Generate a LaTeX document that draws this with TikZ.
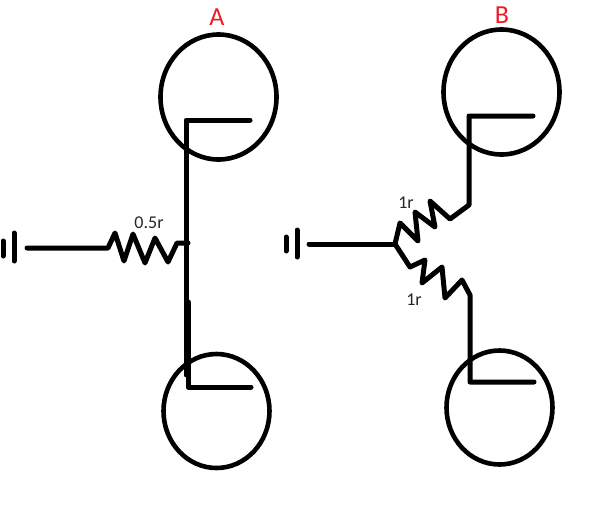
\documentclass[tikz,border=0pt]{standalone}
\usepackage{fontspec}
\setmainfont{Carlito}
\usepackage{tikz}
\usetikzlibrary{positioning,shapes.geometric}

\definecolor{paintred}{RGB}{237,28,36}

\begin{document}
\begin{tikzpicture}[
    x = 1pt, % one unit is one pixel of the sketch
    y = -1pt,
    line join = round,
    line cap = round,
    line width = 4.6pt % line style
    ]

    \tikzset{
    tube/.style = {draw = black, ellipse, inner sep = 0pt, outer sep = 0pt},
    wire/.style = {draw = black, line width = 5pt},
    bar/.style = {wire},
    title/.style = {text = paintred, font = \fontsize{26}{26}\selectfont, inner sep = 0pt},
    value/.style = {text = black!85, font = \fontsize{18}{18}\selectfont, inner sep = 0pt}
    }
    \useasboundingbox (0,0) rectangle (613,509);

    \node[tube, minimum width = 116pt, minimum height = 125pt] (t1) at (218.5,97) {};
    \node[tube, minimum width = 106pt, minimum height = 114pt] (t2) at (216.5,411) {};
    \node[tube, minimum width = 116pt, minimum height = 125pt] (t3) at (501.5,92) {};
    \node[tube, minimum width = 106pt, minimum height = 114pt] (t4) at (499.5,407.5) {};

    \node[title] (a) at (217,17) {A};
    \node[title] (b) at (502,15) {B};
    \node[value] (r1) at (149,223) {0.5r};
    \node[value] (r2) at (406,203) {1r};
    \node[value] (r3) at (414,300) {1r};

    % ground bars
    \coordinate (g1a) at (3,241);
    \coordinate (g1b) at (3,256);
    \coordinate (g2a) at (14,233);
    \coordinate (g2b) at (14,261);
    \coordinate (g3a) at (286,237);
    \coordinate (g3b) at (286,251);
    \coordinate (g4a) at (297,230);
    \coordinate (g4b) at (297,257);
    \draw[bar] (g1a) -- (g1b);
    \draw[bar] (g2a) -- (g2b);
    \draw[bar] (g3a) -- (g3b);
    \draw[bar] (g4a) -- (g4b);

    % left side
    \coordinate (w1) at (27,248);
    \coordinate (j1) at (188,243);
    \coordinate (p1) at (250,120);
    \coordinate (p2) at (186,120);
    \coordinate (p3) at (186,375);
    \coordinate (p4) at (188,302);
    \coordinate (p5) at (188,387);
    \coordinate (p6) at (251,387);
    \draw[wire] (w1) -- (108,248) -- (115,233) -- (124,261) -- (133,234)
        -- (145,263) -- (155,238) -- (168,262) -- (177,243) -- (j1);
    \draw[wire] (p1) -- (p2) -- (p3);
    \draw[wire] (p4) -- (p5) -- (p6);

    % right side
    \coordinate (w2) at (309,244);
    \coordinate (j2) at (395,244);
    \coordinate (q1) at (533,116);
    \coordinate (q2) at (469,116);
    \coordinate (q3) at (469,205);
    \coordinate (q4) at (534,382);
    \coordinate (q5) at (470,382);
    \coordinate (q6) at (470,295);
    \draw[wire] (w2) -- (j2);
    \draw[wire] (j2) -- (400,223) -- (418,241) -- (415,212) -- (435,227)
        -- (430,201) -- (450,219) -- (q3) -- (q2) -- (q1);
    \draw[wire] (j2) -- (410,267) -- (425,260) -- (422,283) -- (442,267)
        -- (445,298) -- (462,280) -- (q6) -- (q5) -- (q4);
\end{tikzpicture}
\end{document}
